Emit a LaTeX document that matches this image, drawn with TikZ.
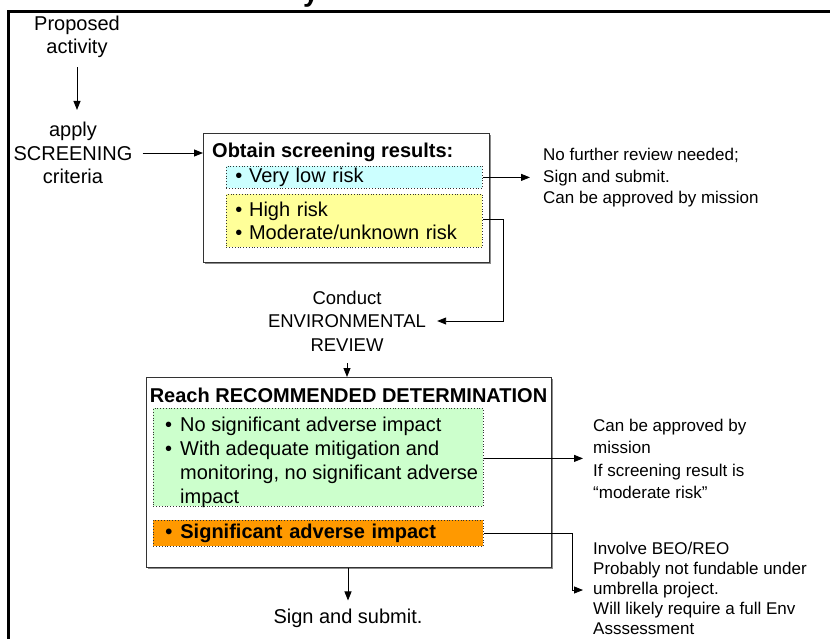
\documentclass[tikz,border=0pt]{standalone}
\usepackage{fontspec}
\setmainfont{Liberation Sans}
\usetikzlibrary{arrows.meta,shadows}
\definecolor{cyanfill}{HTML}{CCFFFF}
\definecolor{yellowfill}{HTML}{FFFF99}
\definecolor{greenfill}{HTML}{CCFFCC}
\definecolor{orangefill}{HTML}{FF9900}
\newcommand\blt[1]{\makebox[15pt][l]{\textbullet}#1}
\begin{document}
\begin{tikzpicture}[x=1pt,y=-1pt,
  txt/.style={inner sep=0pt, align=center, font=\fontsize{20}{23.5}\selectfont},
  bold/.style={inner sep=0pt, font=\fontsize{20}{23.5}\selectfont\bfseries},
  side/.style={inner sep=0pt, align=left, anchor=west, font=\fontsize{17}{21}\selectfont},
  arr/.style={-{Triangle[length=9pt,width=7pt]}, line width=0.9pt},
  bigbox/.style={draw=black!80, line width=1pt, fill=white, anchor=north west,
     drop shadow={shadow xshift=1.5pt, shadow yshift=-1.5pt, fill=black!45, opacity=1}},
  colbox/.style={draw=black!80, dotted, line width=0.8pt, anchor=north west,
     inner xsep=0pt, inner ysep=0pt, align=left, font=\fontsize{20}{23.5}\selectfont}
]
\useasboundingbox (0,0) rectangle (830,638);
% outer frame (partly cut off)
\draw[line width=3pt] (8,645) -- (8,11) -- (840,11);
\node[inner sep=0pt, anchor=base, font=\fontsize{28}{30}\selectfont\bfseries] (ttl) at (311,1) {y};

% left column
\node[txt] (prop) at (77,37) {Proposed\\activity};
\node[txt] (apply) at (73,153) {apply\\SCREENING\\criteria};

% screening box
\node[bigbox, minimum width=286pt, minimum height=129pt] (scr) at (203,133) {};
\node[bold, anchor=west] (scrt) at (212,152) {Obtain screening results:};
\node[colbox, fill=cyanfill, minimum width=256pt, minimum height=22pt, text width=256pt] (vlow) at (226,166)
  {\hspace*{9pt}\textbullet{} Very low risk};
\node[colbox, fill=yellowfill, minimum width=256pt, minimum height=53pt, text width=256pt] (yel) at (226,194)
  {\hspace*{9pt}\textbullet{} High risk\\\hspace*{9pt}\textbullet{} Moderate/unknown risk};

\node[side, font=\fontsize{17}{21.5}\selectfont] (nofur) at (543,178) {No further review needed;\\Sign and submit.\\Can be approved by mission};

% environmental review
\node[txt, font=\fontsize{18.5}{23.5}\selectfont] (cond) at (347,321) {Conduct\\ENVIRONMENTAL\\REVIEW};

% recommended determination box
\node[bigbox, minimum width=405pt, minimum height=190pt] (rec) at (146,377) {};
\node[bold] (rect) at (348.5,395) {Reach RECOMMENDED DETERMINATION};
\node[colbox, fill=greenfill, minimum width=330pt, minimum height=98pt] (grn) at (153,408) {};
\node[inner sep=0pt, align=left, anchor=west, font=\fontsize{20}{24}\selectfont] (grntxt) at (165,462)
  {\blt{No significant adverse impact}\\
   \blt{With adequate mitigation and}\\
   \hspace*{15pt}monitoring, no significant adverse\\
   \hspace*{15pt}impact};
\node[colbox, fill=orangefill, minimum width=330pt, minimum height=26pt, text width=330pt, font=\fontsize{20}{23.5}\selectfont\bfseries] (org) at (153,520)
  {\hspace*{12pt}\blt{Significant adverse impact}};

\node[side, font=\fontsize{17}{22.2}\selectfont] (canbe) at (593,459) {Can be approved by\\mission\\If screening result is\\“moderate risk”};
\node[side, font=\fontsize{17}{20}\selectfont] (inv) at (593,588) {Involve BEO/REO\\Probably not fundable under\\umbrella project.\\Will likely require a full Env\\Asssessment};

\node[txt] (sign) at (348,618) {Sign and submit.};

% connectors
\draw[arr, shorten <=9pt] (prop.south) -- ([yshift=12pt]prop.south |- apply.north);
\draw[arr, shorten <=10pt] (apply.east) -- (apply.east -| scr.west);
\draw[arr, shorten >=13pt] (vlow.east) -- (vlow.east -| nofur.west);
\draw[arr, shorten >=11pt] ([yshift=1pt]yel.east) -- ++(21,0) |- (cond.east);
\draw[arr] ([yshift=-12pt]cond.south) -- (cond.south |- rec.north);
\draw[arr, shorten >=10pt] ([yshift=-1pt]grn.east) -- ([yshift=-1pt]grn.east -| canbe.west);
\draw[arr, shorten >=10pt] (org.east) -- ++(89,0) |- ([yshift=-2pt]inv.west);
\draw[arr, shorten >=8pt] (rec.south -| sign.north) -- (sign.north);
\end{tikzpicture}
\end{document}
